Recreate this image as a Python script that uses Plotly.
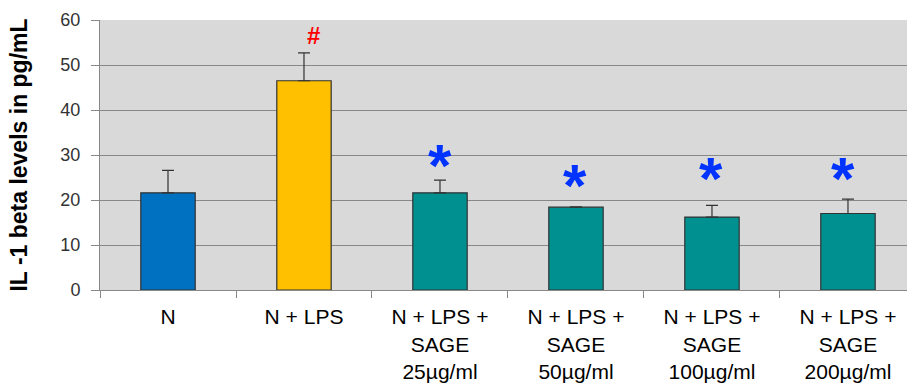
import plotly.graph_objects as go

categories = ["N", "N + LPS", "N + LPS +<br>SAGE<br>25µg/ml", "N + LPS +<br>SAGE<br>50µg/ml",
              "N + LPS +<br>SAGE<br>100µg/ml", "N + LPS +<br>SAGE<br>200µg/ml"]
values = [21.6, 46.5, 21.6, 18.4, 16.2, 17.0]
errors = [5.0, 6.2, 2.8, 0.1, 2.6, 3.2]
bar_colors = ["#0070C0", "#FFC000", "#009090", "#009090", "#009090", "#009090"]
marks = ["", "#", "*", "*", "*", "*"]
mark_y = [0, 56.7, 30.1, 25.6, 27.2, 27.2]
mark_xshift = [0, 10, 0, -1, -1, -5]
mark_colors = ["#FF0000", "#FF0000", "#0033FF", "#0033FF", "#0033FF", "#0033FF"]
yticks = [0, 10, 20, 30, 40, 50, 60]

fig = go.Figure()
fig.add_trace(go.Bar(
    x=categories, y=values,
    marker=dict(color=bar_colors, line=dict(color="#333333", width=1.2)),
    width=0.40,
    error_y=dict(type="data", array=errors, arrayminus=[0]*6, symmetric=False,
                 color="#333333", thickness=1.2, width=6),
    showlegend=False,
))

for c, m, my, xs, mc in zip(categories, marks, mark_y, mark_xshift, mark_colors):
    if not m:
        continue
    if m == "#":
        fig.add_annotation(x=c, y=my, text="<b>#</b>", showarrow=False,
                           font=dict(family="Liberation Sans", size=24, color=mc),
                           yanchor="middle", xshift=xs, yshift=-1)
    else:
        fig.add_annotation(x=c, y=my, text="<b>*</b>", showarrow=False,
                           font=dict(family="Liberation Sans", size=60, color=mc),
                           yanchor="middle", xshift=xs, yshift=-11)

fig.update_layout(
    width=907, height=383,
    margin=dict(l=100, r=0, t=20, b=93),
    paper_bgcolor="white",
    plot_bgcolor="#D9D9D9",
    font=dict(family="Liberation Sans", color="#000000"),
)
fig.update_xaxes(
    type="category",
    range=[-0.5, 5.434],
    showline=True, linecolor="#888888", linewidth=1,
    ticks="outside", tickson="boundaries", ticklen=7, tickcolor="#888888",
    tickfont=dict(size=21, color="#000000", family="Liberation Sans"),
    ticklabelstandoff=8,
    showgrid=False,
)
fig.update_yaxes(
    range=[0, 60],
    tickvals=yticks,
    showline=True, linecolor="#888888", linewidth=1,
    ticks="outside", ticklen=8, tickcolor="#888888",
    showgrid=True, gridcolor="#888888", gridwidth=1,
    tickfont=dict(size=18, color="#333333", family="Liberation Sans"),
    ticklabelstandoff=7,
    title=dict(text="<b>IL -1 beta levels in pg/mL</b>", font=dict(size=23, color="#000000"), standoff=26),
    zeroline=False,
)

fig.write_html("out.html")
